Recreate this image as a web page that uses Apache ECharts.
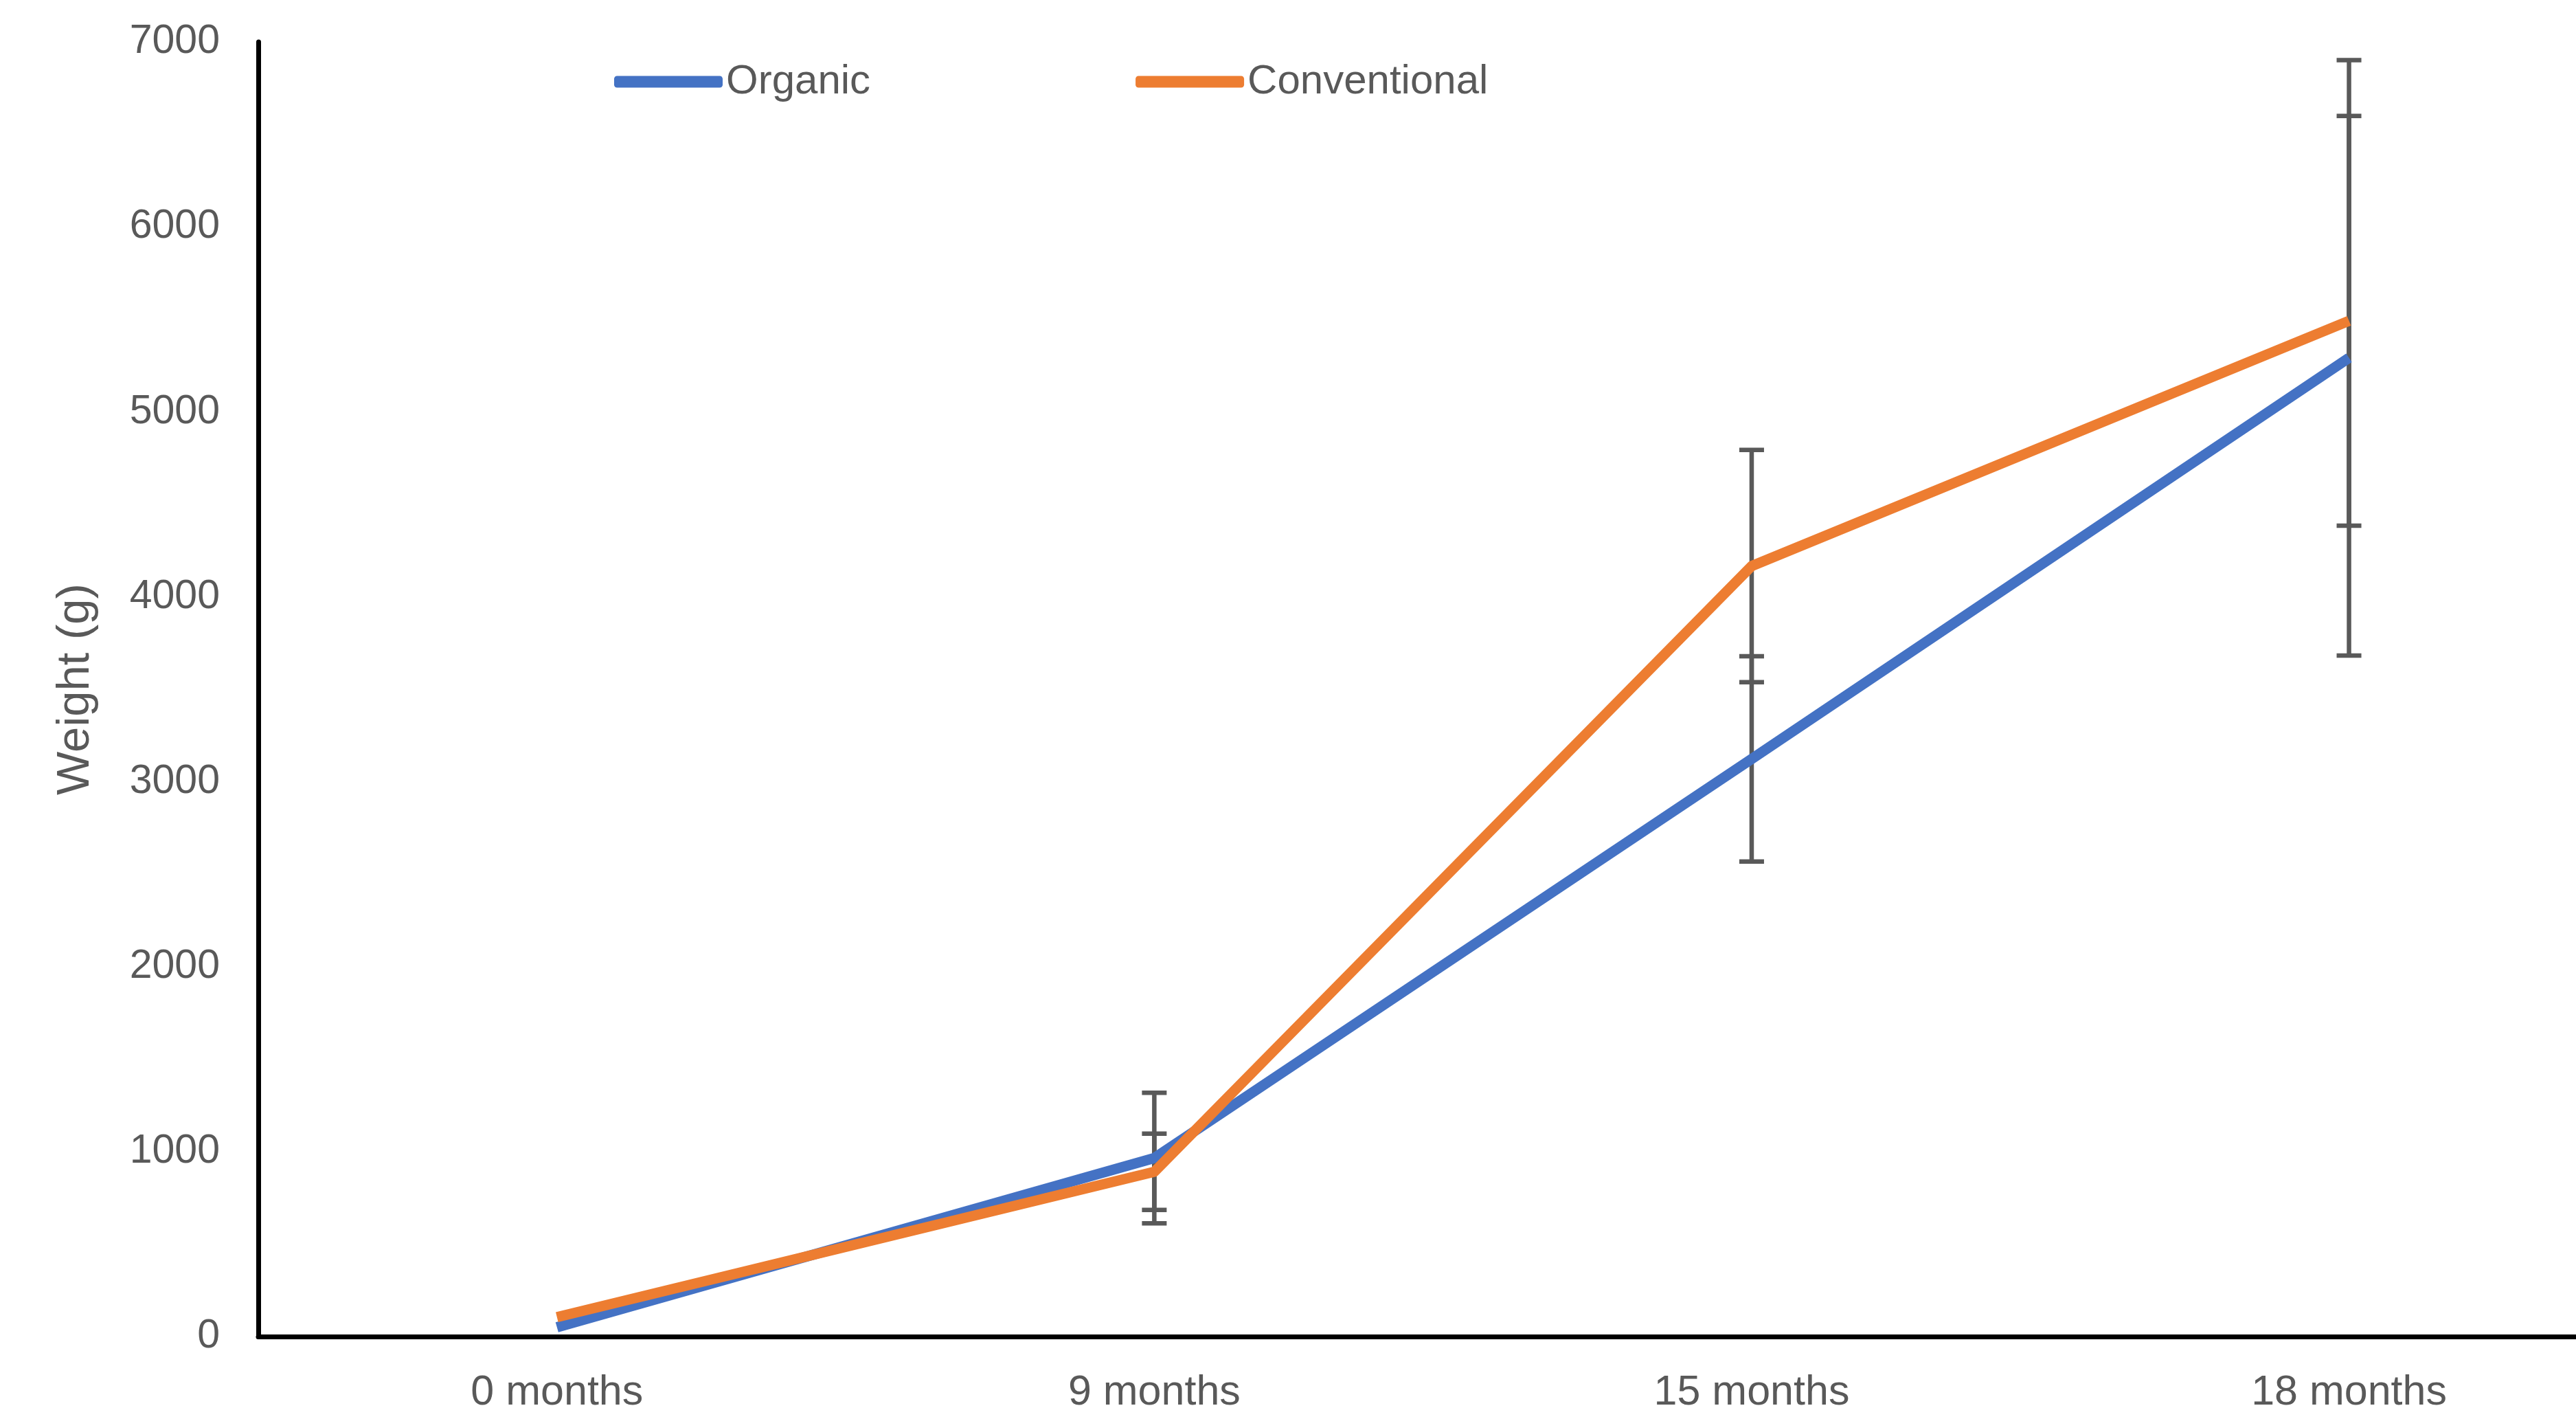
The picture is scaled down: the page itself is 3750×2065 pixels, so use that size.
<!DOCTYPE html>
<html>
<head>
<meta charset="utf-8">
<script src="https://cdn.jsdelivr.net/npm/echarts@6/dist/echarts.min.js"></script>
<style>
html,body{margin:0;padding:0;background:#fff;overflow:hidden;}
#chart{width:3750px;height:2065px;}
</style>
</head>
<body>
<div id="chart"></div>
<script>
const categories = ['0 months', '9 months', '15 months', '18 months'];
const organic = [50, 965, 3123, 5292];
const conventional = [105, 891, 4166, 5492];
const organicErr = [0, 353, 555, 1610];
const conventionalErr = [0, 206, 628, 1108];
const yTicks = [0, 1000, 2000, 3000, 4000, 5000, 6000, 7000];

const FONT = 'Liberation Sans';
const TXT = '#595959';
const catIdx = categories.map((c, i) => i);

function pairs(vals) { return vals.map((v, i) => [i, v]); }
function errData(vals, errs) {
  return vals.map((v, i) => [i, v - errs[i], v + errs[i], errs[i]]);
}

function errRender(params, api) {
  if (api.value(3) === 0) return null;
  const lo = api.coord([api.value(0), api.value(1)]);
  const hi = api.coord([api.value(0), api.value(2)]);
  const hw = 18;
  const style = { stroke: '#595959', lineWidth: 6.5, fill: null };
  return {
    type: 'group',
    children: [
      { type: 'line', shape: { x1: lo[0], y1: lo[1], x2: hi[0], y2: hi[1] }, style },
      { type: 'line', shape: { x1: lo[0] - hw, y1: lo[1], x2: lo[0] + hw, y2: lo[1] }, style },
      { type: 'line', shape: { x1: hi[0] - hw, y1: hi[1], x2: hi[0] + hw, y2: hi[1] }, style }
    ]
  };
}

const chart = echarts.init(document.getElementById('chart'));
chart.setOption({
  animation: false,
  backgroundColor: '#fff',
  grid: { left: 376, top: 61, right: 0, bottom: 120 },
  legend: {
    left: 889, top: 84,
    itemWidth: 158, itemHeight: 17, itemGap: 386,
    icon: 'roundRect',
    textStyle: { fontFamily: FONT, fontSize: 60, color: TXT, padding: [0, 0, 0, 0] },
    data: ['Organic', 'Conventional']
  },
  xAxis: {
    type: 'value',
    min: -0.5, max: 3.38,
    axisLine: { onZero: false, lineStyle: { color: '#000', width: 7 } },
    axisTick: { show: false },
    axisLabel: {
      fontFamily: FONT, fontSize: 61, color: TXT, margin: 52,
      customValues: catIdx,
      formatter: v => categories[Math.round(v)]
    },
    splitLine: { show: false }
  },
  yAxis: {
    type: 'value',
    min: yTicks[0], max: yTicks[yTicks.length - 1], interval: 1000,
    name: 'Weight (g)',
    nameLocation: 'middle',
    nameGap: 232,
    nameTextStyle: { fontFamily: FONT, fontSize: 67, color: TXT },
    axisLine: { show: true, onZero: false, lineStyle: { color: '#000', width: 7 } },
    axisTick: { show: false },
    axisLabel: { fontFamily: FONT, fontSize: 59, color: TXT, margin: 56, formatter: v => String(v) },
    splitLine: { show: false }
  },
  series: [
    { type: 'custom', name: 'errOrganic', renderItem: errRender, data: errData(organic, organicErr), z: 1, silent: true, encode: { x: 0, y: [1, 2] } },
    { type: 'custom', name: 'errConventional', renderItem: errRender, data: errData(conventional, conventionalErr), z: 1, silent: true, encode: { x: 0, y: [1, 2] } },
    { type: 'line', name: 'Organic', data: pairs(organic), showSymbol: false, symbol: 'none', z: 3,
      lineStyle: { color: '#4472C4', width: 15, cap: 'butt', join: 'round' }, itemStyle: { color: '#4472C4' } },
    { type: 'line', name: 'Conventional', data: pairs(conventional), showSymbol: false, symbol: 'none', z: 4,
      lineStyle: { color: '#ED7D31', width: 15, cap: 'butt', join: 'round' }, itemStyle: { color: '#ED7D31' } }
  ]
});
</script>
</body>
</html>
